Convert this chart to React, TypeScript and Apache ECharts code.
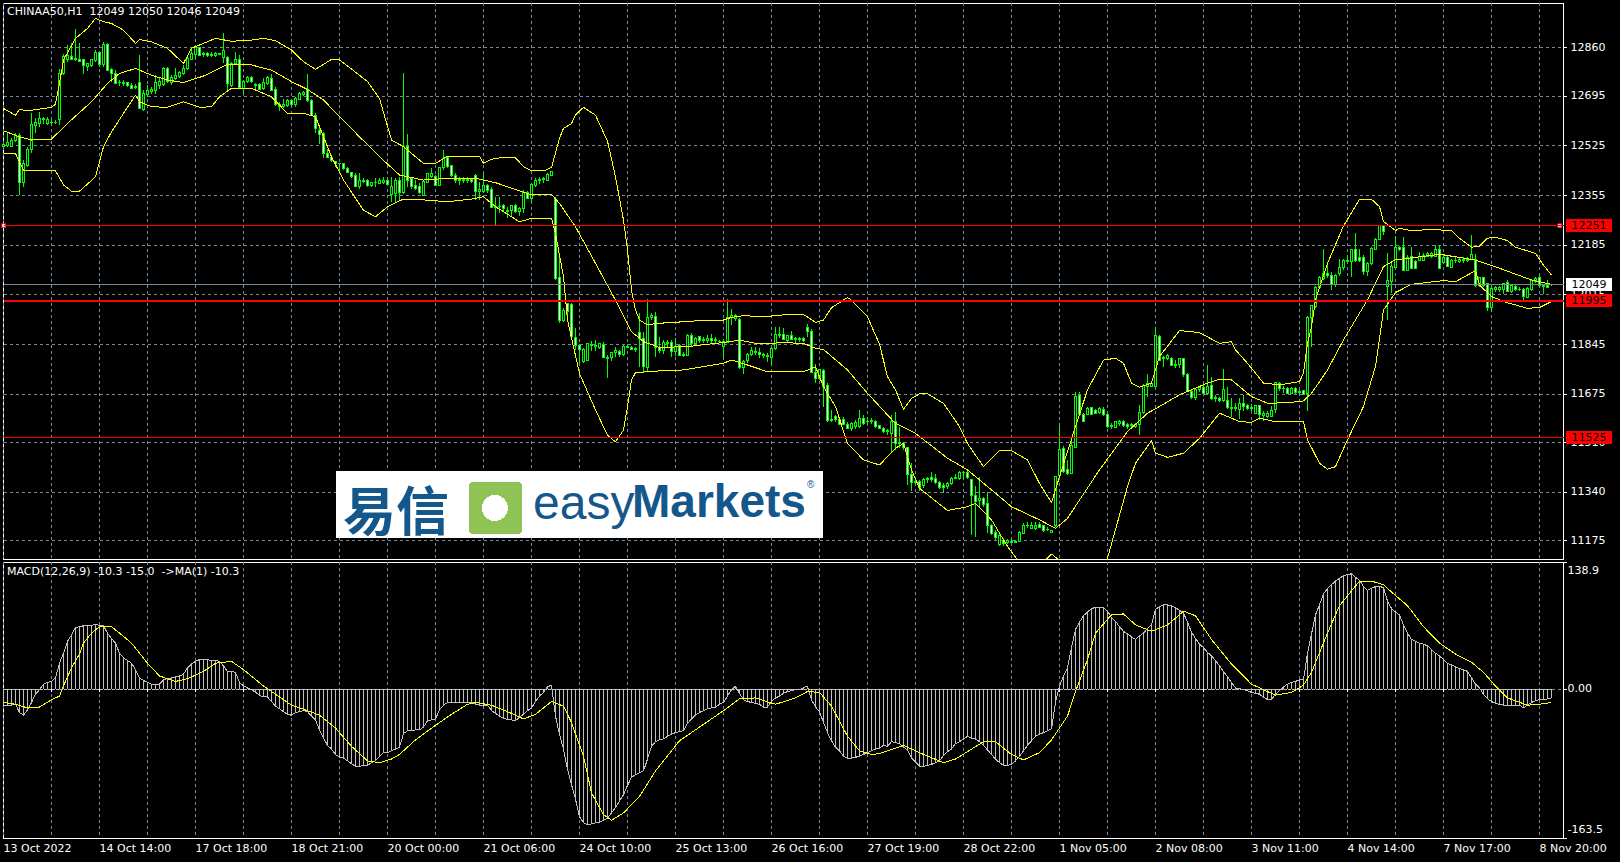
import React, { useEffect, useRef } from "react";
import * as echarts from "echarts";

const slotCount = 391;
const categories = Array.from({ length: slotCount }, (_, i) => String(i));
const timeLabels = ["13 Oct 2022","14 Oct 14:00","17 Oct 18:00","18 Oct 21:00","20 Oct 00:00","21 Oct 06:00","24 Oct 10:00","25 Oct 13:00","26 Oct 16:00","27 Oct 19:00","28 Oct 22:00","1 Nov 05:00","2 Nov 08:00","3 Nov 11:00","4 Nov 14:00","7 Nov 17:00","8 Nov 20:00"];
const priceTicks = [12860,12695,12525,12355,12185,12015,11845,11675,11510,11340,11175];
const macdTicks = [138.9,0,-163.5];
const macdLabelAnchors = [129.6,0,-154.5];
const macdLabelTexts = ["138.9","0.00","-163.5"];

// open, close, low, high
const ohlc = [
[12521,12529,12515,12535],[12524,12536,12521,12567],[12523,12544,12521,12550],[12542,12561,12538,12569],[12561,12398,12356,12567],[12398,12462,12384,12475],[12458,12512,12453,12521],[12510,12597,12500,12635],[12595,12603,12567,12618],[12599,12618,12590,12639],
[12615,12617,12599,12624],[12601,12615,12595,12624],[12603,12605,12599,12612],[12604,12605,12599,12612],[12615,12770,12595,12786],[12772,12831,12766,12840],[12820,12835,12812,12869],[12831,12820,12818,12877],[12823,12818,12816,12924],[12818,12814,12812,12875],
[12818,12799,12770,12823],[12797,12806,12781,12808],[12798,12818,12795,12823],[12815,12843,12812,12852],[12843,12801,12795,12846],[12801,12872,12795,12881],[12872,12783,12779,12877],[12786,12770,12744,12789],[12772,12738,12735,12783],[12740,12742,12729,12751],
[12741,12738,12729,12749],[12740,12729,12724,12744],[12732,12722,12717,12738],[12724,12726,12717,12735],[12740,12652,12649,12835],[12649,12704,12644,12715],[12701,12712,12692,12732],[12709,12717,12701,12724],[12715,12741,12701,12766],[12732,12746,12717,12758],
[12734,12789,12729,12795],[12789,12744,12738,12795],[12740,12758,12732,12766],[12755,12764,12749,12789],[12763,12774,12758,12781],[12770,12789,12766,12801],[12789,12823,12783,12829],[12820,12840,12818,12861],[12838,12860,12820,12863],[12860,12835,12831,12863],
[12838,12840,12829,12846],[12839,12835,12829,12846],[12838,12834,12829,12846],[12832,12840,12829,12846],[12838,12839,12834,12842],[12827,12850,12809,12911],[12827,12738,12715,12831],[12732,12806,12726,12812],[12806,12820,12804,12844],[12820,12724,12721,12835],
[12721,12744,12701,12749],[12744,12758,12738,12763],[12757,12746,12738,12763],[12732,12734,12715,12738],[12734,12717,12715,12740],[12720,12740,12715,12755],[12738,12758,12732,12763],[12755,12715,12713,12770],[12717,12667,12660,12724],[12660,12667,12644,12675],
[12660,12667,12652,12686],[12663,12681,12658,12686],[12681,12667,12660,12686],[12667,12686,12658,12692],[12684,12704,12681,12709],[12701,12706,12696,12712],[12717,12678,12675,12770],[12678,12629,12626,12683],[12629,12584,12567,12635],[12578,12564,12532,12584],
[12567,12498,12483,12572],[12498,12485,12481,12515],[12485,12473,12470,12489],[12470,12462,12453,12473],[12462,12464,12430,12466],[12462,12447,12441,12464],[12447,12433,12430,12453],[12432,12418,12413,12436],[12421,12386,12384,12430],[12384,12404,12378,12430],
[12401,12407,12396,12413],[12405,12389,12382,12409],[12390,12398,12384,12401],[12398,12400,12384,12413],[12396,12404,12393,12413],[12398,12406,12393,12418],[12406,12393,12390,12413],[12356,12386,12333,12418],[12361,12407,12327,12413],[12407,12364,12339,12418],
[12364,12521,12359,12772],[12521,12407,12384,12564],[12413,12384,12378,12418],[12389,12378,12373,12407],[12384,12364,12359,12396],[12353,12401,12352,12407],[12399,12428,12396,12432],[12418,12430,12413,12447],[12418,12390,12386,12424],[12390,12449,12386,12453],
[12449,12481,12443,12510],[12483,12455,12447,12487],[12456,12421,12418,12458],[12423,12407,12396,12430],[12409,12404,12390,12418],[12405,12409,12398,12418],[12405,12409,12398,12418],[12409,12402,12398,12413],[12421,12367,12339,12428],[12367,12373,12339,12401],
[12367,12389,12361,12430],[12389,12370,12364,12393],[12375,12313,12310,12384],[12313,12318,12250,12350],[12316,12318,12293,12348],[12321,12310,12302,12325],[12304,12299,12276,12316],[12302,12319,12281,12321],[12319,12299,12295,12325],[12299,12310,12284,12316],
[12310,12365,12295,12373],[12365,12344,12341,12370],[12344,12392,12327,12398],[12390,12407,12382,12413],[12405,12409,12393,12416],[12408,12413,12396,12416],[12407,12426,12405,12430],[12422,12436,12420,12437],[12339,12070,12065,12348],[12073,11926,11919,12150],
[11926,11962,11922,11968],[11983,11956,11939,11985],[11981,11871,11869,11985],[11869,11842,11825,11899],[11842,11827,11782,11846],[11785,11827,11782,11831],[11789,11846,11786,11850],[11842,11844,11823,11857],[11837,11842,11823,11859],[11835,11846,11828,11850],
[11845,11799,11797,11854],[11797,11800,11728,11808],[11799,11817,11789,11820],[11816,11822,11802,11834],[11820,11811,11802,11825],[11811,11837,11806,11841],[11835,11839,11831,11845],[11835,11827,11825,11839],[11827,11829,11819,11837],[11886,11865,11768,11951],
[11865,11768,11745,11888],[11766,11937,11751,11999],[11936,11943,11928,11951],[11939,11834,11802,11956],[11834,11823,11814,11869],[11823,11851,11811,11859],[11846,11851,11834,11859],[11851,11819,11802,11859],[11819,11839,11805,11865],[11840,11808,11806,11845],
[11808,11810,11802,11819],[11808,11876,11806,11880],[11876,11846,11839,11882],[11846,11865,11839,11871],[11870,11857,11848,11874],[11857,11862,11848,11871],[11859,11863,11850,11876],[11865,11857,11850,11880],[11857,11862,11850,11869],[11854,11855,11850,11860],
[11837,11854,11793,11862],[11851,11937,11848,11999],[11936,11943,11911,11964],[11934,11942,11926,11948],[11930,11766,11759,11934],[11766,11785,11743,11791],[11789,11810,11780,11816],[11810,11825,11805,11837],[11816,11820,11808,11834],[11818,11810,11799,11833],
[11810,11807,11797,11816],[11802,11805,11785,11814],[11800,11831,11774,11837],[11831,11879,11827,11903],[11876,11880,11865,11903],[11879,11862,11859,11900],[11859,11874,11850,11876],[11874,11862,11859,11891],[11862,11864,11850,11869],[11862,11865,11854,11871],
[11865,11857,11854,11871],[11903,11889,11871,11916],[11889,11748,11745,11896],[11748,11728,11711,11777],[11728,11757,11722,11762],[11754,11702,11629,11759],[11704,11583,11580,11711],[11583,11588,11580,11620],[11597,11586,11580,11603],[11586,11572,11569,11591],
[11589,11571,11568,11595],[11572,11558,11554,11580],[11556,11574,11549,11580],[11565,11578,11554,11586],[11565,11591,11560,11620],[11591,11574,11569,11603],[11579,11582,11572,11595],[11580,11583,11572,11591],[11581,11563,11560,11586],[11566,11557,11554,11569],
[11557,11546,11540,11563],[11547,11549,11534,11554],[11540,11580,11477,11603],[11580,11506,11483,11614],[11508,11506,11489,11563],[11506,11491,11483,11512],[11491,11400,11363,11495],[11400,11373,11344,11438],[11375,11373,11363,11381],[11375,11355,11344,11381],
[11360,11383,11352,11386],[11383,11387,11369,11392],[11390,11381,11375,11407],[11384,11373,11367,11400],[11373,11355,11349,11377],[11360,11355,11337,11369],[11358,11369,11349,11375],[11367,11386,11363,11390],[11387,11390,11383,11401],[11384,11406,11381,11410],
[11406,11407,11384,11410],[11407,11390,11383,11410],[11381,11326,11192,11384],[11328,11306,11187,11360],[11309,11318,11287,11390],[11318,11295,11287,11323],[11301,11224,11198,11338],[11224,11198,11192,11230],[11201,11184,11175,11209],[11160,11189,11156,11198],
[11175,11164,11156,11181],[11166,11172,11161,11177],[11167,11171,11164,11177],[11167,11169,11164,11175],[11169,11201,11167,11205],[11198,11225,11196,11232],[11223,11226,11215,11238],[11216,11225,11212,11235],[11216,11226,11209,11235],[11229,11218,11215,11235],
[11223,11209,11204,11226],[11210,11212,11207,11221],[11201,11207,11199,11209],[11223,11392,11219,11394],[11395,11485,11392,11565],[11489,11409,11403,11497],[11415,11402,11398,11449],[11402,11497,11400,11527],[11492,11667,11489,11683],[11669,11606,11603,11681],
[11606,11582,11580,11611],[11606,11626,11603,11631],[11627,11606,11603,11631],[11617,11609,11605,11622],[11613,11625,11605,11629],[11622,11603,11600,11631],[11605,11563,11560,11609],[11565,11568,11554,11574],[11560,11580,11557,11584],[11574,11581,11566,11586],
[11582,11566,11563,11586],[11572,11563,11555,11577],[11568,11571,11561,11574],[11562,11570,11560,11574],[11569,11612,11535,11636],[11612,11703,11606,11709],[11701,11711,11666,11742],[11702,11711,11698,11717],[11700,11876,11698,11905],[11873,11791,11786,11877],
[11796,11800,11766,11805],[11796,11805,11790,11810],[11797,11772,11769,11801],[11772,11774,11765,11791],[11774,11795,11765,11799],[11795,11742,11734,11797],[11742,11683,11680,11746],[11685,11664,11658,11689],[11664,11689,11655,11694],[11689,11698,11683,11700],
[11698,11677,11675,11706],[11677,11702,11672,11774],[11705,11658,11655,11732],[11659,11662,11649,11672],[11660,11652,11648,11666],[11652,11689,11649,11761],[11654,11628,11623,11698],[11625,11629,11595,11660],[11625,11628,11615,11643],[11620,11643,11590,11660],
[11643,11632,11615,11672],[11634,11625,11620,11641],[11625,11629,11617,11641],[11609,11634,11605,11638],[11634,11603,11586,11637],[11600,11607,11584,11615],[11597,11607,11592,11615],[11597,11617,11595,11634],[11620,11715,11609,11717],[11712,11692,11686,11717],
[11692,11695,11677,11703],[11695,11677,11675,11700],[11677,11695,11675,11698],[11695,11680,11675,11700],[11680,11682,11675,11689],[11686,11673,11670,11689],[11675,11937,11618,11942],[11937,11976,11837,11980],[11974,12040,11968,12045],[12038,12072,12033,12079],
[12070,12088,12065,12170],[12088,12081,12071,12128],[12079,12048,12031,12094],[12048,12081,12040,12086],[12086,12109,12079,12136],[12106,12131,12099,12136],[12129,12132,12125,12151],[12128,12168,12074,12170],[12168,12131,12128,12227],[12143,12130,12125,12170],
[12143,12094,12082,12151],[12094,12122,12079,12128],[12122,12174,12117,12179],[12171,12204,12168,12209],[12205,12250,12202,12253],[12250,12231,12219,12253],[12042,12062,11928,12156],[12059,12111,12022,12122],[12107,12177,12105,12216],[12177,12168,12165,12181],
[12177,12099,12095,12211],[12099,12143,12097,12150],[12147,12105,12102,12179],[12127,12105,12102,12134],[12133,12147,12130,12162],[12133,12150,12131,12156],[12147,12156,12142,12162],[12145,12156,12140,12162],[12147,12168,12143,12185],[12168,12105,12102,12185],
[12124,12143,12120,12147],[12143,12111,12108,12147],[12108,12131,12105,12136],[12131,12133,12124,12143],[12128,12136,12124,12143],[12131,12136,12124,12143],[12136,12132,12127,12142],[12136,12153,12133,12219],[12136,12046,12042,12153],[12046,12073,12042,12076],
[12073,12046,12042,12076],[12054,11972,11959,12056],[11970,12036,11957,12040],[12031,12039,12025,12044],[12033,12040,12025,12044],[12033,12054,12017,12056],[12058,12027,12024,12065],[12025,12046,12022,12048],[12042,12033,12028,12048],[12034,12032,12028,12040],
[12031,12008,11991,12036],[12006,12036,12002,12042],[12033,12063,12028,12067],[12059,12071,12056,12076],[12074,12046,12040,12079],[12042,12047,12016,12052],[12046,12040,12040,12065],[12049,12049,12046,12050],
];

const bbUpper = [[0,12652],[3,12629],[4,12649],[6,12644],[10,12652],[12,12656],[13,12667],[14,12738],[15,12818],[18,12892],[21,12926],[23,12960],[25,12949],[27,12943],[30,12920],[33,12875],[34,12888],[37,12880],[41,12858],[45,12806],[47,12858],[50,12875],[53,12892],[57,12882],[62,12886],[65,12892],[68,12884],[72,12852],[75,12812],[78,12786],[82,12820],[84,12818],[87,12787],[91,12744],[94,12686],[97,12544],[100,12521],[105,12464],[108,12464],[111,12489],[119,12489],[120,12464],[122,12478],[125,12485],[128,12483],[130,12453],[132,12438],[135,12438],[137,12450],[138,12500],[139,12550],[140,12584],[142,12600],[143,12630],[145,12656],[148,12629],[151,12540],[153,12418],[155,12270],[156,12167],[157,12030],[158,11962],[159,11928],[161,11911],[163,11916],[170,11922],[176,11928],[180,11928],[182,11937],[185,11943],[190,11939],[196,11947],[200,11947],[203,11920],[205,11928],[207,11970],[211,12005],[212,11996],[216,11939],[219,11845],[221,11734],[223,11689],[225,11622],[227,11660],[229,11675],[231,11675],[235,11643],[239,11563],[241,11505],[245,11426],[249,11481],[252,11481],[256,11449],[259,11369],[262,11303],[264,11392],[268,11563],[271,11689],[275,11791],[278,11797],[280,11780],[282,11712],[284,11698],[287,11712],[289,11803],[294,11892],[299,11885],[304,11848],[307,11854],[308,11826],[311,11780],[315,11712],[319,11706],[324,11717],[325,11746],[326,11848],[327,11905],[328,11997],[331,12122],[335,12250],[339,12341],[342,12341],[344,12316],[345,12265],[348,12234],[349,12242],[352,12234],[357,12238],[362,12234],[364,12208],[367,12177],[369,12181],[371,12208],[373,12211],[376,12200],[378,12177],[383,12156],[385,12116],[387,12082]];
const bbMiddle = [[0,12576],[4,12555],[7,12544],[12,12547],[16,12601],[22,12675],[26,12738],[29,12772],[33,12789],[37,12766],[41,12749],[45,12741],[50,12763],[54,12789],[56,12803],[62,12801],[67,12783],[72,12744],[76,12717],[80,12681],[84,12624],[89,12555],[94,12487],[99,12424],[105,12407],[111,12413],[118,12413],[123,12398],[128,12375],[132,12356],[137,12358],[139,12327],[143,12247],[148,12122],[153,11996],[157,11888],[160,11854],[164,11834],[171,11837],[180,11851],[184,11859],[188,11848],[196,11850],[200,11848],[203,11831],[205,11827],[211,11757],[216,11677],[221,11603],[223,11574],[228,11540],[236,11455],[241,11415],[246,11358],[252,11289],[259,11244],[263,11215],[266,11249],[269,11312],[274,11415],[281,11546],[286,11609],[290,11640],[294,11672],[301,11712],[304,11726],[307,11723],[312,11666],[316,11643],[321,11645],[325,11651],[327,11677],[331,11757],[335,11860],[341,11997],[345,12111],[348,12134],[358,12151],[360,12151],[368,12133],[374,12105],[382,12065],[387,12050]];
const bbLower = [[0,12498],[3,12498],[5,12441],[13,12439],[15,12390],[17,12369],[19,12369],[23,12418],[25,12521],[27,12572],[30,12635],[33,12698],[34,12675],[37,12658],[41,12656],[45,12675],[49,12656],[52,12658],[54,12692],[57,12721],[62,12721],[67,12692],[71,12635],[75,12635],[78,12624],[82,12487],[85,12407],[90,12304],[93,12281],[96,12316],[100,12342],[105,12339],[111,12333],[117,12342],[120,12350],[123,12316],[129,12264],[132,12276],[137,12276],[138,12224],[140,12076],[141,11928],[144,11745],[148,11620],[151,11534],[153,11511],[155,11551],[156,11631],[157,11722],[158,11748],[163,11753],[170,11757],[180,11780],[182,11791],[186,11774],[191,11751],[200,11751],[203,11768],[205,11700],[208,11631],[211,11506],[215,11449],[219,11432],[221,11460],[223,11489],[225,11506],[227,11415],[229,11352],[236,11276],[241,11289],[243,11301],[247,11244],[251,11153],[253,11116],[255,11070],[258,11075],[260,11100],[262,11127],[264,11105],[270,11040],[275,11070],[276,11113],[281,11358],[283,11438],[287,11515],[288,11472],[291,11458],[295,11472],[299,11523],[304,11609],[307,11592],[309,11580],[312,11578],[314,11592],[318,11580],[325,11580],[326,11518],[329,11438],[331,11417],[333,11426],[336,11518],[340,11632],[343,11769],[345,11962],[348,12022],[352,12050],[360,12063],[363,12059],[368,12097],[369,12048],[372,12008],[376,11987],[381,11968],[384,11971],[387,11991]];

const macdValues = [-18,-18,-18,-17,-26,-29,-23,-15,-6,-1,5,7,8,12,28,39,52,59,67,68,69,69,69,71,69,69,61,55,50,39,34,31,28,21,12,9,7,5,5,5,10,11,12,13,14,16,23,27,30,32,32,32,31,31,30,25,19,19,18,7,3,1,-1,-4,-7,-9,-9,-14,-19,-22,-25,-28,-29,-26,-25,-24,-25,-30,-34,-45,-54,-62,-66,-72,-75,-76,-79,-82,-85,-85,-84,-84,-81,-79,-74,-70,-70,-68,-66,-64,
-49,-46,-46,-45,-45,-42,-35,-34,-33,-23,-18,-15,-15,-15,-15,-15,-15,-15,-17,-18,-19,-18,-24,-27,-30,-32,-34,-34,-35,-31,-28,-24,-21,-14,-8,-4,2,4,-30,-50,-66,-88,-105,-121,-140,-147,-149,-148,-147,-146,-144,-142,-136,-130,-123,-116,-106,-97,-94,-92,-90,-77,-63,-58,-56,-55,-52,-50,-48,-47,-46,-38,-33,-29,-26,-24,-22,-21,-20,-17,-15,-8,-1,3,-5,-12,-14,-15,-16,-17,-20,-20,-14,-10,-8,-5,-3,-2,-1,-1,
1,3,-12,-20,-25,-37,-48,-57,-64,-68,-74,-76,-76,-75,-74,-72,-70,-68,-66,-65,-62,-63,-58,-59,-60,-64,-67,-76,-80,-85,-85,-84,-83,-81,-79,-73,-69,-66,-60,-58,-55,-52,-54,-55,-58,-62,-67,-72,-77,-81,-84,-84,-83,-79,-74,-68,-62,-57,-52,-50,-48,-46,-44,-15,3,14,23,45,65,73,80,84,88,89,89,89,85,78,74,68,63,60,57,54,58,61,66,70,87,90,92,92,91,89,86,83,73,62,55,49,
45,40,36,31,25,19,13,7,1,0,-1,-2,-4,-5,-6,-9,-12,-12,-6,-2,2,5,7,8,10,10,39,60,81,92,104,110,114,118,121,124,125,126,122,119,112,108,110,112,112,111,96,88,84,81,70,61,54,52,50,49,47,43,39,36,32,28,26,24,22,21,19,12,5,1,-6,-11,-14,-16,-17,-18,-18,-18,-18,-18,-21,-18,-15,-13,-12,-12,-11,-10];

const macdSignal = [[0,-15],[3,-17],[6,-21],[9,-20],[12,-12],[14,-8],[15,3],[17,23],[19,38],[20,50],[22,61],[24,68],[27,68],[29,61],[32,50],[36,28],[39,14],[43,8],[46,11],[50,19],[53,28],[57,30],[60,21],[65,3],[68,-6],[72,-18],[76,-24],[79,-29],[83,-43],[87,-63],[91,-79],[94,-81],[97,-77],[99,-72],[103,-56],[108,-40],[112,-28],[116,-17],[118,-15],[122,-18],[127,-27],[130,-33],[133,-28],[137,-14],[140,-19],[142,-37],[145,-74],[147,-114],[150,-138],[152,-144],[155,-136],[159,-118],[163,-90],[169,-57],[174,-42],[180,-24],[184,-11],[188,-10],[193,-17],[198,-10],[201,-3],[204,-4],[207,-19],[211,-52],[214,-68],[217,-72],[219,-71],[225,-62],[230,-72],[235,-81],[238,-77],[245,-58],[248,-58],[252,-72],[255,-78],[259,-70],[262,-56],[266,-30],[268,-3],[271,32],[273,61],[277,81],[280,82],[283,70],[287,63],[291,70],[295,85],[298,80],[302,54],[307,27],[312,5],[318,-7],[322,-4],[325,4],[327,18],[331,61],[334,91],[339,118],[342,118],[345,114],[347,106],[351,91],[355,68],[359,50],[363,38],[367,29],[370,18],[373,3],[376,-10],[381,-18],[384,-17],[387,-15]];

const resistanceLevels = [12251, 11995, 11525];
const bidLevel = 12049;
const lastBar = ohlc.length - 1;

const FONT = "DejaVu Sans";
const GRIDC = "#778899";
const BLUE = "#14578a";

function tag(bg: string) {
  return { show: true, position: "end", distance: 2, backgroundColor: bg, color: "#000", fontFamily: FONT, fontSize: 11, padding: [1, 6, 1, 6], formatter: (p: any) => String(p.value) };
}

export default function App() {
  const ref = useRef<HTMLDivElement>(null);
  useEffect(() => {
    const chart = echarts.init(ref.current!, null, { renderer: "svg" });
    const split = { show: true, interval: 11, lineStyle: { color: GRIDC, width: 1, type: [3, 3] as any } };
    chart.setOption({
      animation: false,
      backgroundColor: "#000",
      grid: [
        { left: 3.5, top: 3, width: 1560, height: 556, show: true, borderColor: "#fff", borderWidth: 1, backgroundColor: "#000" },
        { left: 3.5, top: 562, width: 1560, height: 276, show: true, borderColor: "#fff", borderWidth: 1, backgroundColor: "#000" },
      ],
      xAxis: [
        { type: "category", gridIndex: 0, data: categories, boundaryGap: false, axisLine: { show: false }, axisTick: { show: false, interval: 11 }, axisLabel: { show: false, interval: 11 }, splitLine: split },
        { type: "category", gridIndex: 1, data: categories, boundaryGap: false, axisLine: { show: false },
          axisTick: { show: true, interval: 11, length: 3, lineStyle: { color: "#fff" } },
          axisLabel: { show: true, interval: 23, color: "#fff", fontFamily: FONT, fontSize: 11, align: "left", margin: 5, formatter: (_: string, i: number) => timeLabels[i / 24] ?? "" },
          splitLine: split },
      ],
      yAxis: [
        { type: "value", gridIndex: 0, position: "right", min: 11110, max: 13013, axisLine: { show: false },
          axisTick: { show: true, length: 3, lineStyle: { color: "#fff" }, customValues: priceTicks },
          axisLabel: { show: true, color: "#fff", fontFamily: FONT, fontSize: 11, margin: 7, customValues: priceTicks, formatter: (v: number) => String(v) },
          splitLine: { show: true, lineStyle: { color: GRIDC, width: 1, type: [3, 3] as any } } },
        { type: "value", gridIndex: 1, position: "right", min: -163.5, max: 138.9, axisLine: { show: false },
          axisTick: { show: true, length: 3, lineStyle: { color: "#fff" }, customValues: macdTicks },
          axisLabel: { show: true, color: "#fff", fontFamily: FONT, fontSize: 11, margin: 4, customValues: macdLabelAnchors, formatter: (v: number) => macdLabelTexts[macdLabelAnchors.indexOf(v)] ?? "" },
          splitLine: { show: true, showMinLine: false, showMaxLine: false, lineStyle: { color: GRIDC, width: 1, type: [3, 3] as any } } },
      ],
      series: [
        { type: "candlestick", xAxisIndex: 0, yAxisIndex: 0, data: ohlc, barWidth: 3,
          itemStyle: { color: "#000", color0: "#fff", borderColor: "#00ff00", borderColor0: "#00ff00", borderColorDoji: "#00ff00", borderWidth: 1 },
          markLine: { silent: true, symbol: "none", precision: 0, animation: false,
            data: [
              { yAxis: resistanceLevels[0], lineStyle: { color: "#ff0000", width: 1, type: "solid" }, label: tag("#ff0000") },
              { yAxis: resistanceLevels[1], lineStyle: { color: "#ff0000", width: 2, type: "solid" }, label: tag("#ff0000") },
              { yAxis: resistanceLevels[2], lineStyle: { color: "#ff0000", width: 1, type: "solid" }, label: tag("#ff0000") },
              { yAxis: bidLevel, lineStyle: { color: GRIDC, width: 1, type: "solid" }, label: tag("#ffffff") },
            ] } },
        { type: "line", xAxisIndex: 0, yAxisIndex: 0, data: bbUpper, showSymbol: false, lineStyle: { color: "#ffff00", width: 1 }, z: 3 },
        { type: "line", xAxisIndex: 0, yAxisIndex: 0, data: bbMiddle, showSymbol: false, lineStyle: { color: "#ffff00", width: 1 }, z: 3 },
        { type: "line", xAxisIndex: 0, yAxisIndex: 0, data: bbLower, showSymbol: false, lineStyle: { color: "#ffff00", width: 1 }, z: 3 },
        { type: "scatter", xAxisIndex: 0, yAxisIndex: 0, symbol: "rect", symbolSize: 4, z: 4, silent: true,
          data: [[0, resistanceLevels[0]], [389, resistanceLevels[0]]], itemStyle: { color: "#fff", borderColor: "#ff0000", borderWidth: 1 } },
        { type: "bar", xAxisIndex: 1, yAxisIndex: 1, data: macdValues, barWidth: 1, itemStyle: { color: "#c0c0c0" } },
        { type: "line", xAxisIndex: 1, yAxisIndex: 1, data: macdValues, showSymbol: false, lineStyle: { color: "#c0c0c0", width: 1 }, z: 3,
          markLine: { silent: true, symbol: "none", animation: false, label: { show: false }, lineStyle: { color: "#c0c0c0", width: 1, type: [3, 1] },
            data: [[{ coord: [0, 0] }, { coord: [lastBar, 0] }]] } },
        { type: "line", xAxisIndex: 1, yAxisIndex: 1, data: macdSignal, showSymbol: false, lineStyle: { color: "#ffff00", width: 1 }, z: 4 },
      ],
      graphic: [
        { type: "text", z: 50, style: { x: 7, y: 6, text: "CHINAA50,H1  12049 12050 12046 12049", fill: "#fff", font: `11px "${FONT}"` } },
        { type: "text", z: 50, style: { x: 7, y: 566, text: "MACD(12,26,9) -10.3 -15.0  ->MA(1) -10.3", fill: "#fff", font: `11px "${FONT}"` } },
        { type: "rect", z: 60, shape: { x: 336, y: 471, width: 487, height: 67 }, style: { fill: "#fff" } },
        { type: "text", z: 61, style: { x: 343, y: 482, text: "易信", fill: BLUE, font: `bold 53px "Noto Sans CJK SC"` } },
        { type: "rect", z: 61, shape: { x: 469, y: 482, width: 53, height: 52, r: 4 }, style: { fill: "#8fc356" } },
        { type: "circle", z: 62, shape: { cx: 495, cy: 508, r: 13 }, style: { fill: "#fff" } },
        { type: "text", z: 61, style: { x: 533, y: 478, text: "easy", fill: BLUE, font: `48px "Liberation Sans"` } },
        { type: "text", z: 61, style: { x: 632, y: 478, text: "Markets", fill: BLUE, font: `bold 46px "Liberation Sans"` } },
        { type: "text", z: 61, style: { x: 807, y: 479, text: "®", fill: BLUE, font: `10px "Liberation Sans"` } },
      ],
    });
    const svg = ref.current!.querySelector("svg");
    if (svg) (svg as SVGElement).style.shapeRendering = "crispEdges";
    return () => chart.dispose();
  }, []);
  return <div ref={ref} style={{ position: "fixed", left: 0, top: 0, width: 1620, height: 862, background: "#000" }} />;
}
